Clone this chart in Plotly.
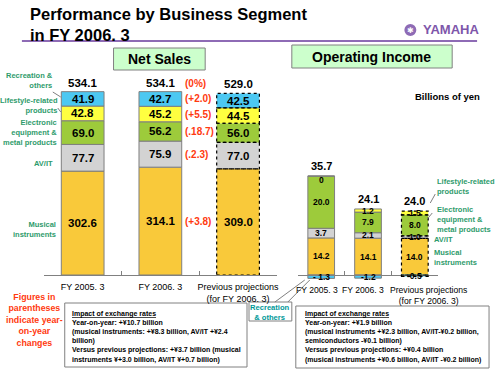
import plotly.graph_objects as go

W, H = 500, 375
def px(x): return x / W
def py(y): return 1 - y / H

FONT = "Arial, Liberation Sans, sans-serif"

# ---------------- data ----------------
categories = ["FY 2005. 3", "FY 2006. 3", "Previous projections<br>(for FY 2006. 3)"]

segments = ["Musical instruments", "AV/IT", "Electronic equipment & metal products",
            "Lifestyle-related products", "Recreation & others"]

sales_musical = [302.6, 314.1, 309.0]
sales_av = [77.7, 75.9, 77.0]
sales_elec = [69.0, 56.2, 56.0]
sales_life = [42.8, 45.2, 44.5]
sales_rec = [41.9, 42.7, 42.5]
sales_total = [534.1, 534.1, 529.0]
sales_changes = ["(+3.8)", "(.2.3)", "(.18.7)", "(+5.5)", "(+2.0)"]   # musical..recreation
total_change = "(0%)"

op_musical = [14.2, 14.1, 14.0]
op_av = [3.7, 2.1, 1.0]
op_elec = [20.0, 7.9, 8.0]
op_life = [0.0, 1.2, 1.5]
op_rec = [-1.3, -1.2, -0.5]
op_total = [35.7, 24.1, 24.0]
op_life_labels = ["0", "1.2", "1.5"]
op_rec_labels = ["- 1.3", "-1.2", "-0.5"]

colors = ["#F9C93A", "#D3D3D3", "#9DCB3B", "#FFFF40", "#4CC8F2"]
GREEN = "#2E9B6B"
RED = "#FF3A10"

fig = go.Figure()

# ---------------- bars ----------------
sales_series = [sales_musical, sales_av, sales_elec, sales_life, sales_rec]
op_series = [op_musical, op_av, op_elec, op_life, op_rec]
LW, RW = 0.55, 0.57

for name, vals, c in zip(segments, sales_series, colors):
    fig.add_trace(go.Bar(x=categories, y=vals, name=name, width=LW,
                         marker=dict(color=c, line=dict(color="#7F7F7F", width=[1, 1, 0])),
                         xaxis="x", yaxis="y", showlegend=False, hoverinfo="skip"))
for name, vals, c in zip(segments, op_series, colors):
    fig.add_trace(go.Bar(x=categories, y=vals, name=name, width=RW,
                         marker=dict(color=c, line=dict(color="#7F7F7F", width=[1, 1, 0])),
                         xaxis="x2", yaxis="y2", showlegend=False, hoverinfo="skip"))

annotations = []
shapes = []

# ---------------- in-bar labels, totals, dotted outlines ----------------
def stack_info(series):
    out = []
    for i in range(3):
        pos, neg = 0.0, 0.0
        segs = []
        for vals in series:
            v = vals[i]
            if v >= 0:
                segs.append((pos, pos + v)); pos += v
            else:
                segs.append((neg + v, neg)); neg += v
        out.append((segs, pos))
    return out

left_info = stack_info(sales_series)
for i, (segs, top) in enumerate(left_info):
    for k, (y0, y1) in enumerate(segs):
        annotations.append(dict(x=i, y=(y0 + y1) / 2, xref="x", yref="y",
                                text=f"<b>{sales_series[k][i]:.1f}</b>", showarrow=False,
                                font=dict(family=FONT, size=11.5, color="black")))
        if i == 2:
            shapes.append(dict(type="rect", xref="x", yref="y", x0=i - LW / 2, x1=i + LW / 2,
                               y0=y0, y1=y1, line=dict(color="black", width=1.2, dash="dot")))
    annotations.append(dict(x=i, y=top, xref="x", yref="y", yanchor="bottom", yshift=1,
                            text=f"<b>{sales_total[i]:.1f}</b>", showarrow=False,
                            font=dict(family=FONT, size=11.5, color="black")))

# year-on-year changes (next to FY2006.3 bar)
segs2, top2 = left_info[1]
for k, (y0, y1) in enumerate(segs2):
    annotations.append(dict(x=1, y=(y0 + y1) / 2, xref="x", yref="y", xanchor="left",
                            xshift=23, text=f"<b>{sales_changes[k]}</b>", showarrow=False,
                            font=dict(family=FONT, size=10, color=RED)))
annotations.append(dict(x=1, y=top2, xref="x", yref="y", xanchor="left", yanchor="bottom",
                        yshift=1, xshift=23, text=f"<b>{total_change}</b>", showarrow=False,
                        font=dict(family=FONT, size=10, color=RED)))

right_info = stack_info(op_series)
for i, (segs, top) in enumerate(right_info):
    for k, (y0, y1) in enumerate(segs):
        if k == 3:
            t = op_life_labels[i]
        elif k == 4:
            t = op_rec_labels[i]
        else:
            t = f"{op_series[k][i]:.1f}"
        a = dict(x=i, y=(y0 + y1) / 2, xref="x2", yref="y2",
                 text=f"<b>{t}</b>", showarrow=False,
                 font=dict(family=FONT, size=8.5, color="black"))
        if k == 3 and y1 - y0 == 0:
            a.update(y=y1, yanchor="top", yshift=3)
        annotations.append(a)
        if i == 2:
            shapes.append(dict(type="rect", xref="x2", yref="y2", x0=i - RW / 2, x1=i + RW / 2,
                               y0=y0, y1=y1, line=dict(color="black", width=1.2, dash="dot")))
    annotations.append(dict(x=i, y=top, xref="x2", yref="y2", yanchor="bottom", yshift=2,
                            text=f"<b>{op_total[i]:.1f}</b>", showarrow=False,
                            font=dict(family=FONT, size=11, color="black")))

# right chart category labels
rshift = [-4, -5, 14]
for i, c in enumerate(categories):
    annotations.append(dict(x=i, y=0, xref="x2", yref="y2", yanchor="top", yshift=-8, xshift=rshift[i],
                            text=c, showarrow=False,
                            font=dict(family=FONT, size=8.6, color="black")))

# ---------------- static text ----------------
def txt(x, y, text, size, color="black", xanchor="center", yanchor="middle", align="center", bold=True):
    annotations.append(dict(x=px(x), y=py(y), xref="paper", yref="paper", xanchor=xanchor,
                            yanchor=yanchor, align=align, showarrow=False,
                            text=f"<b>{text}</b>" if bold else text,
                            font=dict(family=FONT, size=size, color=color)))

txt(28, 24, "Performance by Business Segment<br>in FY 2006. 3", 16.5, xanchor="left", align="left")
txt(423, 30, "YAMAHA", 13, color="#7E56AA", xanchor="left")
txt(412, 30.5, "✱", 8, color="white", bold=False)
txt(160, 59, "Net Sales", 14)
txt(373, 56.5, "Operating Income", 14)
txt(449, 96, "Billions of yen", 9.5)

# left segment labels
LS = 7.5
txt(55, 81, "Recreation &amp;<br>others", LS, GREEN, xanchor="right", align="right")
txt(60, 105, "Lifestyle-related<br>products", LS, GREEN, xanchor="right", align="right")
txt(59, 132, "Electronic<br>equipment &amp;<br>metal products", LS, GREEN, xanchor="right", align="right")
txt(55, 163, "AV/IT", LS, GREEN, xanchor="right", align="right")
txt(58, 230, "Musical<br>instruments", LS, GREEN, xanchor="right", align="right")

# right segment labels
txt(437, 187, "Lifestyle-related<br>products", LS, GREEN, xanchor="left", align="left")
txt(437, 219, "Electronic<br>equipment &amp;<br>metal products", LS, GREEN, xanchor="left", align="left")
txt(434, 239, "AV/IT", LS, GREEN, xanchor="left", align="left")
txt(434, 257, "Musical<br>instruments", LS, GREEN, xanchor="left", align="left")

txt(35, 320, "Figures in<br>parentheses<br>indicate year-<br>on-year<br>changes", 8.8, RED)
txt(271.5, 312, "Recreation<br>&amp; others", 7.6, "#009999")

txt(70, 308, "<span style='text-decoration:underline'>Impact of exchange rates</span><br>"
             "Year-on-year: +¥10.7 billion<br>"
             "(musical instruments: +¥8.3 billion, AV/IT +¥2.4<br>"
             "billion)<br>"
             "Versus previous projections: +¥3.7 billion (musical<br>"
             "instruments ¥+3.0 billion, AV/IT ¥+0.7 billion)",
    7, xanchor="left", yanchor="top", align="left")
txt(304, 307.5, "<span style='text-decoration:underline'>Impact of exchange rates</span><br>"
                "Year-on-year: +¥1.9 billion<br>"
                "(musical instruments +¥2.3 billion, AV/IT-¥0.2 billion,<br>"
                "semiconductors -¥0.1 billion)<br>"
                "Versus previous projections: +¥0.4 billion<br>"
                "(musical instruments +¥0.6 billion, AV/IT -¥0.2 billion)",
    7, xanchor="left", yanchor="top", align="left")

# ---------------- decorative shapes ----------------
def rect(x0, y0, x1, y1, fill="white", line="#808080", lw=1):
    shapes.append(dict(type="rect", xref="paper", yref="paper", x0=px(x0), x1=px(x1),
                       y0=py(y1), y1=py(y0), fillcolor=fill, line=dict(color=line, width=lw),
                       layer="below"))

def line(x0, y0, x1, y1, color="#808080", w=1):
    shapes.append(dict(type="line", xref="paper", yref="paper", x0=px(x0), x1=px(x1),
                       y0=py(y0), y1=py(y1), line=dict(color=color, width=w)))

line(22, 41, 479, 41, "#8E6BB5", 2)
shapes.append(dict(type="circle", xref="paper", yref="paper", x0=px(406), x1=px(418),
                   y0=py(36), y1=py(24), fillcolor="#8E6BB5", line=dict(width=0)))
rect(114, 48, 206, 70, fill="#CCFFCC")
rect(293, 45, 454, 68, fill="#CCFFCC")
rect(65, 303, 248, 367)
rect(297, 306, 491, 368)
rect(250, 302, 293, 321)
line(276, 302, 306, 280)
line(289, 302, 311, 280)
line(53, 92, 61, 97)
line(58, 108, 61, 112)
line(432, 203, 437, 194)
line(429, 219, 434, 213)

# ---------------- layout ----------------
axis_common = dict(type="category", range=[-0.5, 2.5], autorange=False,
                   showline=True, linecolor="#808080", linewidth=1,
                   ticks="inside", tickson="boundaries", ticklen=4, tickcolor="#808080",
                   showgrid=False, zeroline=False, tickangle=0,
                   tickfont=dict(family=FONT, size=9, color="black"), fixedrange=True)

zero_bottom = 275
scale_r = 2.61
r_lo, r_hi = -2.5, 40

fig.update_layout(
    width=W, height=H, margin=dict(l=0, r=0, t=0, b=0),
    paper_bgcolor="white", plot_bgcolor="rgba(0,0,0,0)",
    barmode="relative", showlegend=False,
    xaxis=dict(domain=[px(44), px(278)], anchor="y", ticklabelstandoff=3, **axis_common),
    yaxis=dict(domain=[py(275), py(69)], range=[0, 600], visible=False, fixedrange=True),
    xaxis2=dict(domain=[px(299), px(440)], anchor="free", position=py(zero_bottom),
                showticklabels=False, **axis_common),
    yaxis2=dict(domain=[py(zero_bottom - r_lo * scale_r), py(zero_bottom - r_hi * scale_r)],
                range=[r_lo, r_hi], visible=False, anchor="x2", fixedrange=True),
    annotations=annotations, shapes=shapes,
)

fig.write_html("out.html", config={"displayModeBar": False},
               post_script="document.body.style.margin='0px';")
